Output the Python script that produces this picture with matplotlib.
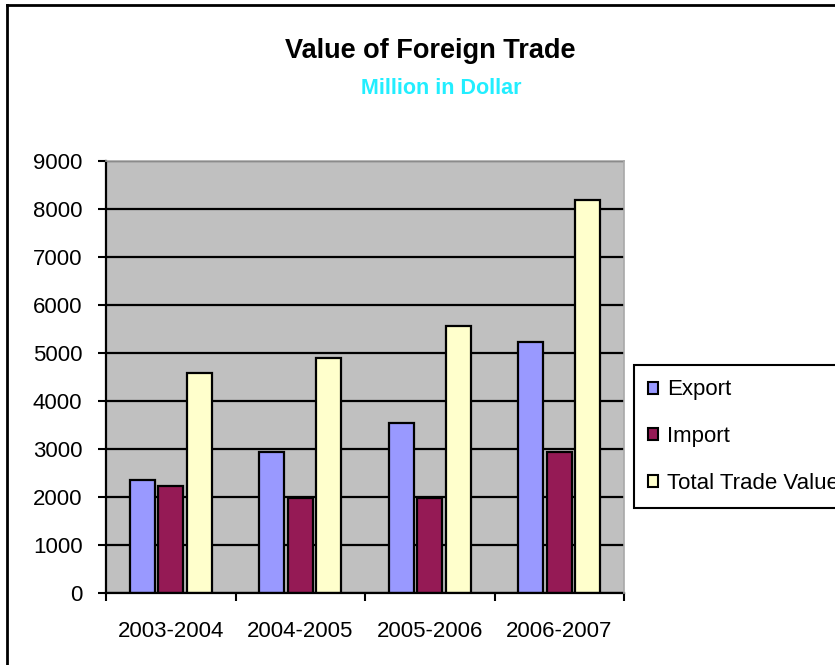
import numpy as np
import matplotlib
matplotlib.use("Agg")
import matplotlib.pyplot as plt
from matplotlib.lines import Line2D

plt.rcParams['font.family'] = ['Liberation Sans', 'DejaVu Sans']

years = ["2003-2004", "2004-2005", "2005-2006", "2006-2007"]
export = [2360, 2930, 3550, 5230]
imports = [2220, 1970, 1970, 2930]
total = [4580, 4900, 5560, 8180]

fig = plt.figure(figsize=(8.35, 6.65), dpi=100)
ax = fig.add_axes([106/835, 1 - 593/665, 518/835, 432/665])
ax.set_facecolor("#C0C0C0")

x = np.arange(len(years))
w = 0.19
step = 0.22
ax.bar(x - step, export, w, color="#9999FF", edgecolor="black", linewidth=1.6, label="Export")
ax.bar(x, imports, w, color="#951A55", edgecolor="black", linewidth=1.6, label="Import")
ax.bar(x + step, total, w, color="#FFFFCC", edgecolor="black", linewidth=1.6, label="Total Trade Value")

ax.set_xlim(-0.5, 3.5)
ax.set_ylim(0, 9000)
ax.set_yticks(range(0, 9001, 1000))
ax.set_axisbelow(True)
ax.grid(axis="y", color="black", linewidth=1.6)
ax.tick_params(axis="y", direction="out", length=6, width=1.5, pad=11, labelsize=16)

ax.set_xticks(x)
ax.set_xticklabels(years)
ax.set_xticks(np.arange(-0.5, 4, 1), minor=True)
ax.tick_params(axis="x", which="major", length=0, pad=20, labelsize=16)
ax.tick_params(axis="x", which="minor", direction="out", length=6, width=1.5)

for s in ["left", "bottom"]:
    ax.spines[s].set_color("black")
    ax.spines[s].set_linewidth(1.6)
for s in ["top", "right"]:
    ax.spines[s].set_color("#A8A8A8")
    ax.spines[s].set_linewidth(1.2)
    ax.spines[s].set_zorder(3)

fig.text(430/835, 1 - 51/665, "Value of Foreign Trade", ha="center", va="center",
         fontsize=19.5, fontweight="bold")
fig.text(441/835, 1 - 89/665, "Million in Dollar", ha="center", va="center",
         fontsize=15.5, fontweight="bold", color="#22EEFF")

leg = fig.legend(loc="upper left", bbox_to_anchor=(634/835, 1 - 365/665), fontsize=16,
                 frameon=True, fancybox=False, edgecolor="black", framealpha=1,
                 handlelength=0.45, handleheight=0.45, handletextpad=0.4,
                 labelspacing=1.15, borderpad=0.65, borderaxespad=0)
leg.get_frame().set_linewidth(1.5)
for h in leg.legend_handles:
    h.set_linewidth(1.5)

# outer frame of the chart (right and bottom edges cut off)
fig.add_artist(Line2D([7/835, 7/835], [0, 1 - 5/665], color="black", linewidth=2, transform=fig.transFigure))
fig.add_artist(Line2D([7/835, 1], [1 - 5/665, 1 - 5/665], color="black", linewidth=2, transform=fig.transFigure))

fig.savefig("out.png", dpi=100)
